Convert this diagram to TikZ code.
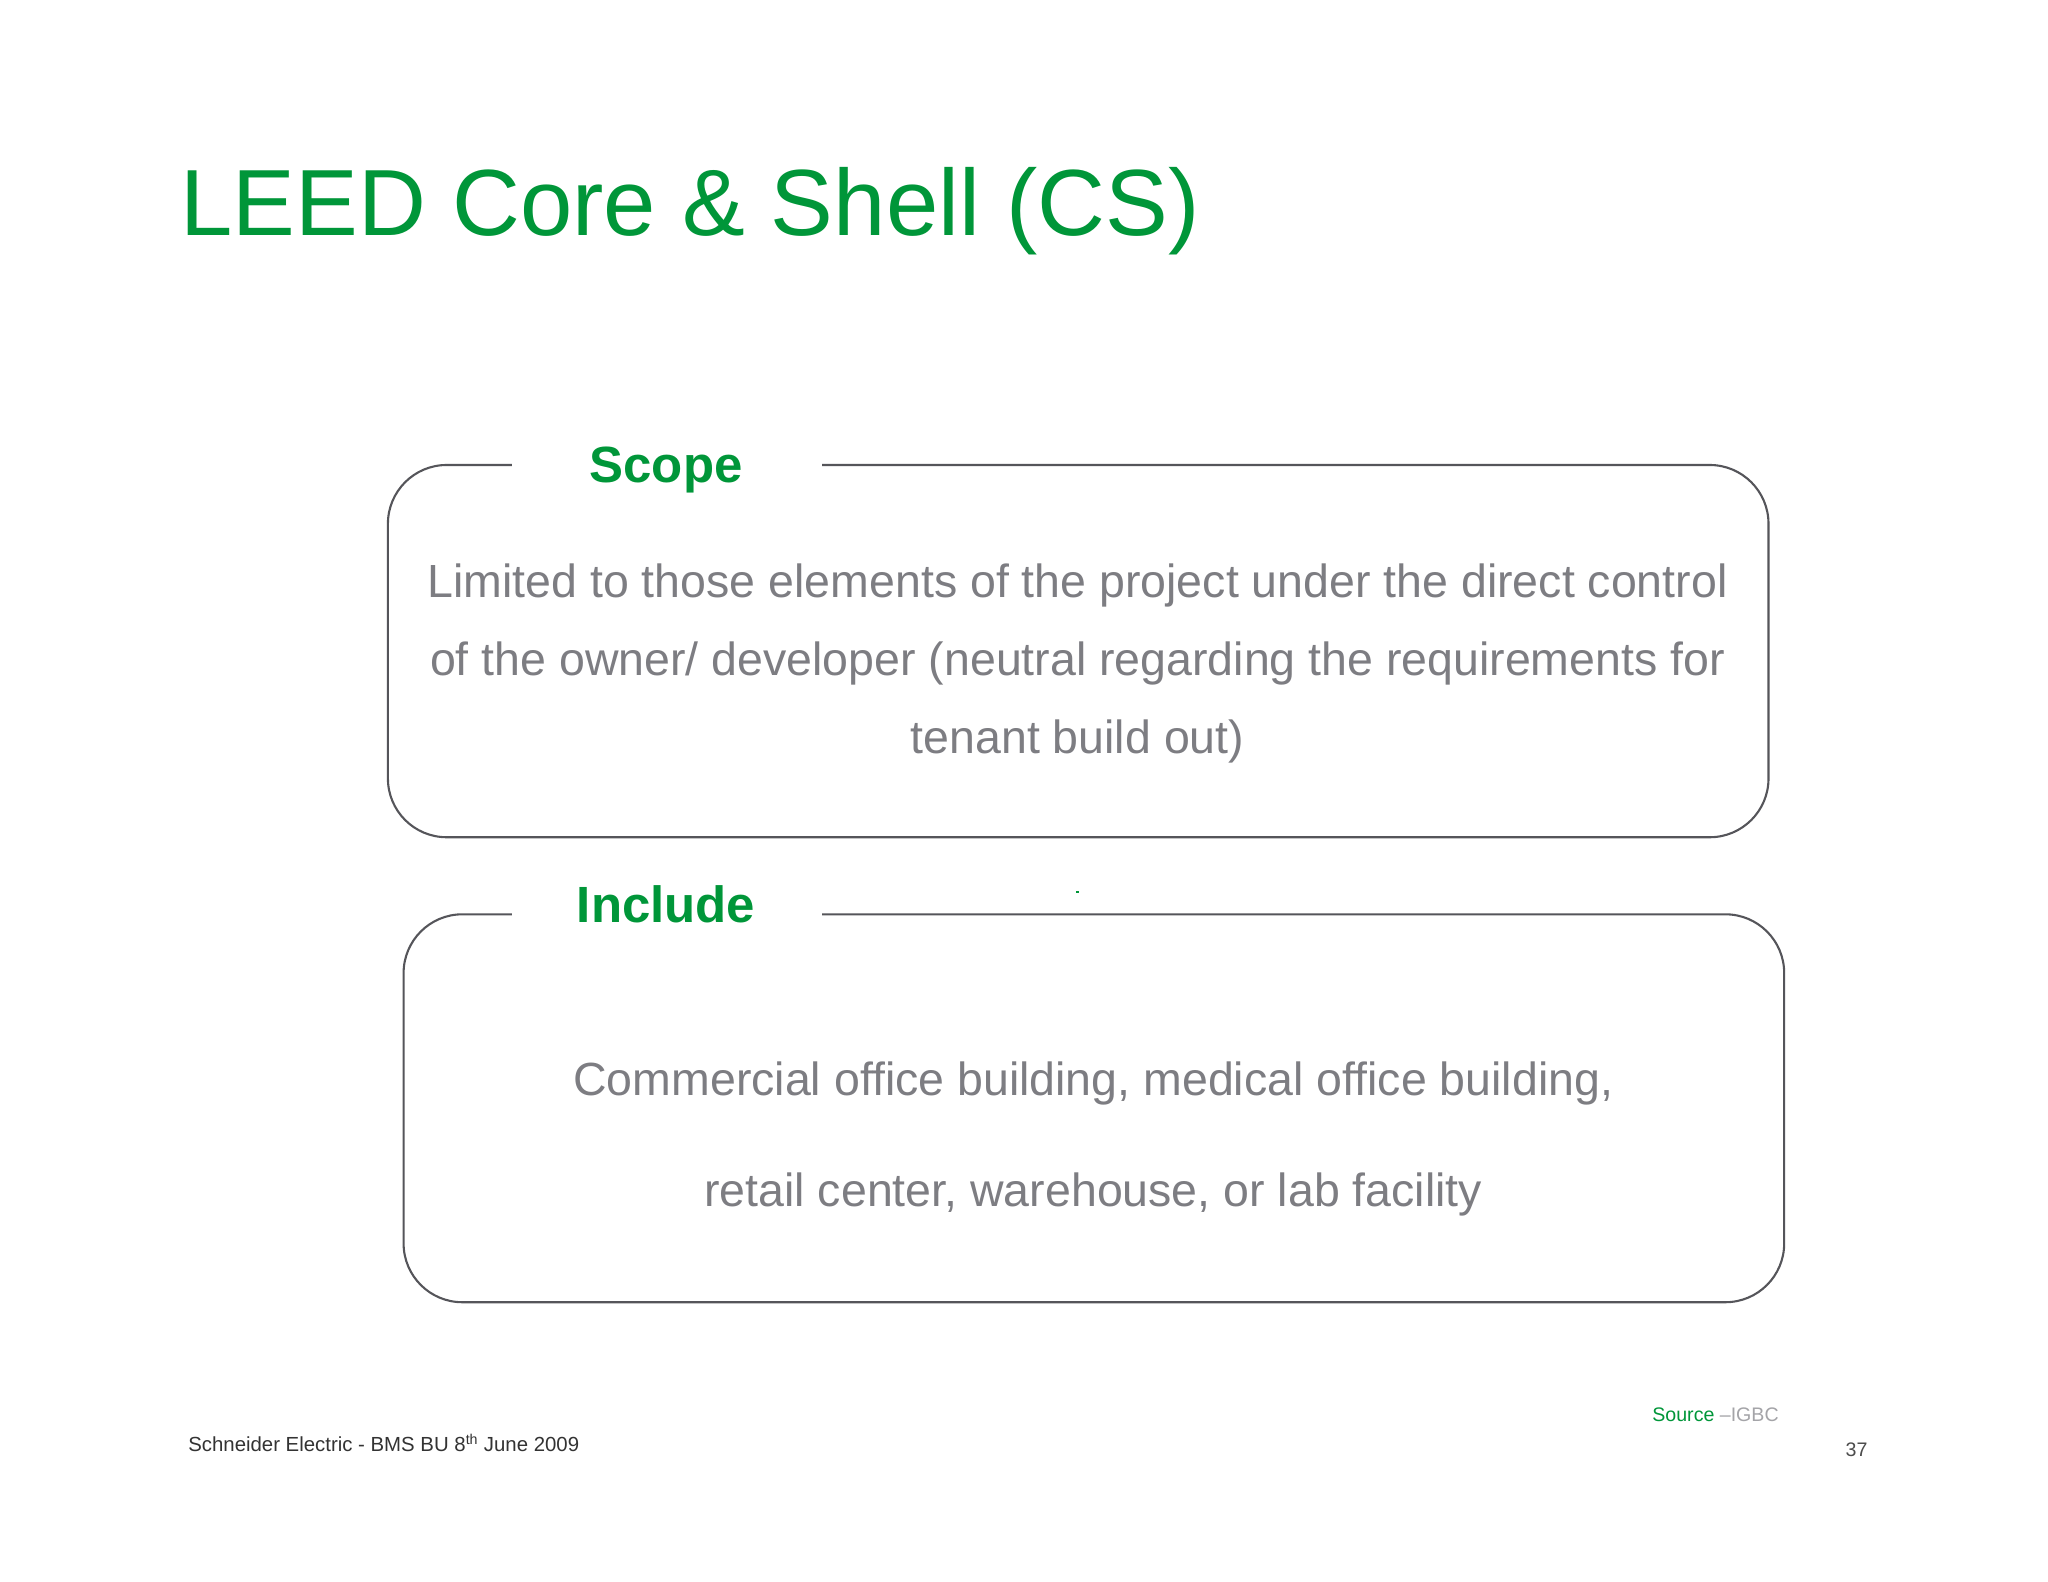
\documentclass[tikz,border=0pt]{standalone}
\usepackage{fontspec}
\setmainfont{Liberation Sans}
\definecolor{sgreen}{RGB}{0,150,57}
\definecolor{tgray}{RGB}{125,125,130}
\definecolor{lgray}{RGB}{85,85,90}
\begin{document}
\begin{tikzpicture}[x=1pt,y=-1pt,
  box/.style={draw=lgray,line width=1.6pt,rounded corners=45pt},
  gap/.style={fill=white,draw=none},
  lab/.style={text=sgreen,font=\fontsize{39}{44}\selectfont\bfseries},
  body/.style={text=tgray,align=center}]
\useasboundingbox[fill=white] (0,0) rectangle (1568,1211);
\node[anchor=base west,text=sgreen,font=\fontsize{72}{80}\selectfont,inner sep=0] (title) at (138,180) {LEED Core \& Shell (CS)};
% scope box
\draw[box] (297,356) rectangle (1354,641);
\fill[gap] (392,350) rectangle (629,362);
\node[lab] (scope) at (510,360) {Scope};
\node[body,font=\fontsize{35.6}{60}\selectfont] (stext) at (825,508) {Limited to those elements of the project under the direct control\\of the owner/ developer (neutral regarding the requirements for\\tenant build out)};
% include box
\draw[box] (309,700) rectangle (1366,997);
\fill[gap] (392,694) rectangle (629,706);
\node[lab] (incl) at (510,692) {Include};
\fill[sgreen] (824,682) rectangle (826,684);
\node[body,font=\fontsize{35.6}{85}\selectfont] (itext) at (837,872) {Commercial office building, medical office building,\\retail center, warehouse, or lab facility};
% footer
\node[anchor=base west,inner sep=0,font=\fontsize{15.6}{18}\selectfont,text=black!80] (foot) at (144,1111) {Schneider Electric - BMS BU 8\textsuperscript{th} June 2009};
\node[anchor=base east,inner sep=0,font=\fontsize{15}{18}\selectfont] (src) at (1362,1088) {\textcolor{sgreen}{Source} \textcolor{tgray!70}{–IGBC}};
\node[anchor=base east,inner sep=0,font=\fontsize{15}{18}\selectfont,text=black!70] (pg) at (1430,1115) {37};
\end{tikzpicture}
\end{document}
